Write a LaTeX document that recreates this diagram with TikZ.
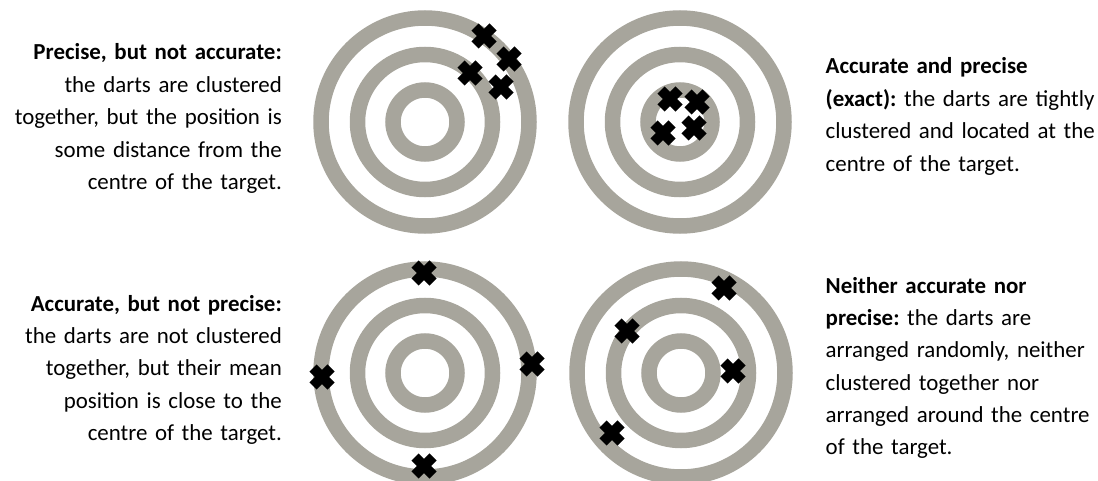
\documentclass[tikz,border=0pt]{standalone}
\usepackage{fontspec}
\setmainfont{Carlito}
\usepackage{tikz}
\definecolor{ringgray}{RGB}{167,165,156}

\begin{document}
\begin{tikzpicture}[x=1pt, y=-1pt,
  ring/.style={line width=15.5pt, ringgray},
  dart/.pic={\draw[line width=10pt, black] (-9,-9) -- (9,9) (-9,9) -- (9,-9);},
  caption/.style={font=\fontsize{22.9}{32.4}\selectfont\frenchspacing, inner sep=0pt, text width=300pt}]
  \useasboundingbox (0,0) rectangle (1098,481);

  \begin{scope}[shift={(425,122)}]
    \draw[ring] (0,0) circle (104) (0,0) circle (67.5) (0,0) circle (32);
    \pic at (59,-86) {dart};
    \pic at (84,-63) {dart};
    \pic at (45,-49) {dart};
    \pic at (76,-35) {dart};
  \end{scope}

  \begin{scope}[shift={(680,122)}]
    \draw[ring] (0,0) circle (104) (0,0) circle (67.5) (0,0) circle (32);
    \pic at (-10,-23) {dart};
    \pic at (17,-20) {dart};
    \pic at (-17,11) {dart};
    \pic at (14,6) {dart};
  \end{scope}

  \begin{scope}[shift={(425,373)}]
    \draw[ring] (0,0) circle (104) (0,0) circle (67.5) (0,0) circle (32);
    \pic at (-1,-100) {dart};
    \pic at (-103,4) {dart};
    \pic at (107,-9) {dart};
    \pic at (-1,93) {dart};
  \end{scope}

  \begin{scope}[shift={(681,373)}]
    \draw[ring] (0,0) circle (104) (0,0) circle (67.5) (0,0) circle (32);
    \pic at (43,-85) {dart};
    \pic at (-54,-42) {dart};
    \pic at (52,-2) {dart};
    \pic at (-69,60) {dart};
  \end{scope}

  \node[caption, align=right, anchor=base east] (preciseonly) at (282,60) {\textbf{Precise, but not accurate:}\\the darts are clustered\\together, but the position is\\some distance from the\\centre of the target.};
  \node[caption, align=left, anchor=base west] (exact) at (825.5,74) {\textbf{Accurate and precise}\\\textbf{(exact):} the darts are tightly\\clustered and located at the\\centre of the target.};
  \node[caption, align=right, anchor=base east] (accurateonly) at (282,311) {\textbf{Accurate, but not precise:}\\the darts are not clustered\\together, but their mean\\position is close to the\\centre of the target.};
  \node[caption, align=left, anchor=base west] (neither) at (825.5,293) {\textbf{Neither accurate nor}\\\textbf{precise:} the darts are\\arranged randomly, neither\\clustered together nor\\arranged around the centre\\of the target.};
\end{tikzpicture}
\end{document}
